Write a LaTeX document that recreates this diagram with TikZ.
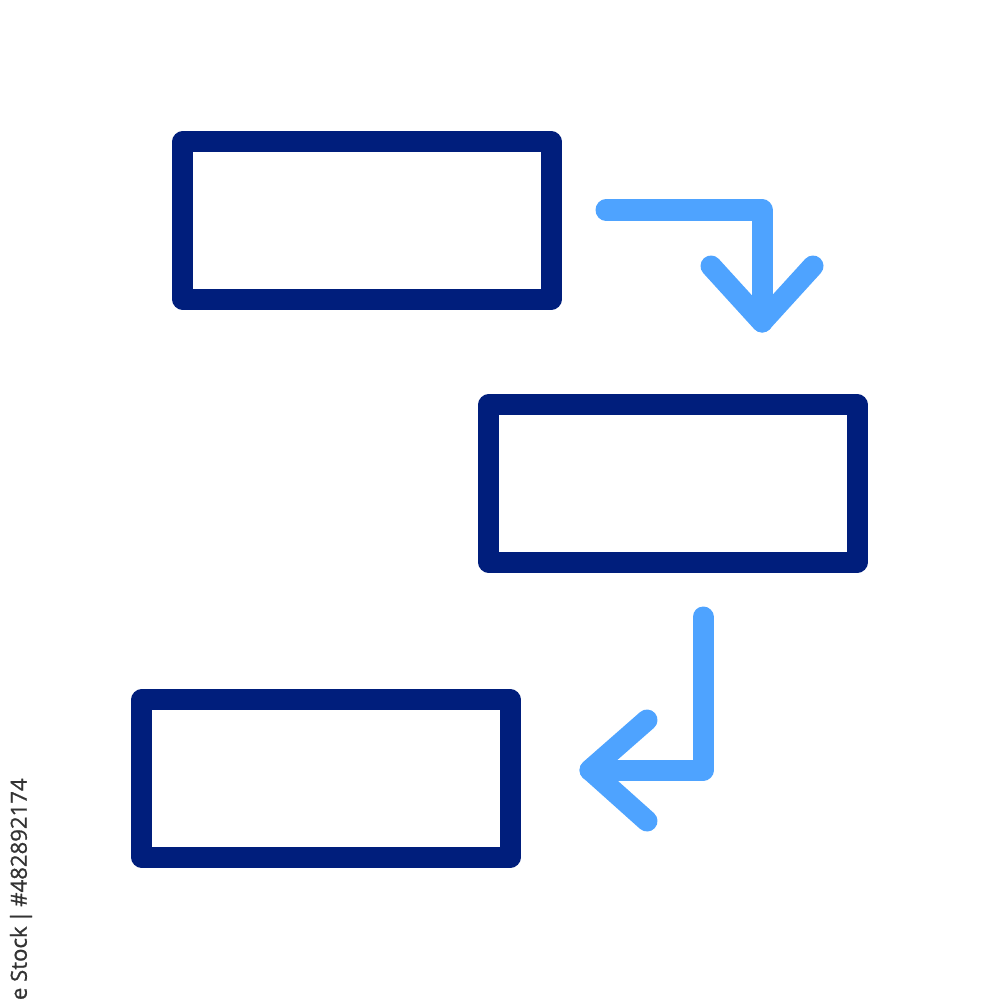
\documentclass[tikz,border=0pt]{standalone}
\usepackage{fontspec}
\newfontfamily\idfont[FakeBold=0.8]{Open Sans}
\usetikzlibrary{positioning}
\definecolor{navy}{HTML}{001E7C}
\definecolor{skyblue}{HTML}{4EA3FF}
\tikzset{
  stepbox/.style={rectangle,draw=navy,line width=2.1mm,minimum width=3.68cm,
    minimum height=1.57cm,inner sep=0pt,line join=round},
  flow/.style={draw=skyblue,line width=2.1mm,line cap=round,line join=round},
}

\begin{document}
\begin{tikzpicture}[x=0.01cm,y=-0.01cm]
\useasboundingbox (0,0) rectangle (1000,1000);
% boxes
\node (b1) [stepbox] at (367,220.5) {};
\node (b2) [stepbox] at (673,483.5) {};
\node (b3) [stepbox] at (326,778.5) {};
%
\coordinate (a1s) at (606,210);
\coordinate (a1t) at (762,322);
\coordinate (a1l) at (711,266);
\coordinate (a1r) at (813,266);
\path[flow] (a1s) -| (a1t);
\path[flow] (a1l) -- (a1t) -- (a1r);
%
\coordinate (a2s) at (703,617);
\coordinate (a2t) at (590,770);
\coordinate (a2u) at (647,720);
\coordinate (a2d) at (647,821);
\path[flow] (a2s) |- (a2t);
\path[flow] (a2u) -- (a2t) -- (a2d);
%
\node (id) [rotate=90,anchor=east,text=black!80,font=\idfont\fontsize{6.3}{7}\selectfont]
  at (21,766) {Adobe Stock\,|\,\#482892174};
\end{tikzpicture}
\end{document}
